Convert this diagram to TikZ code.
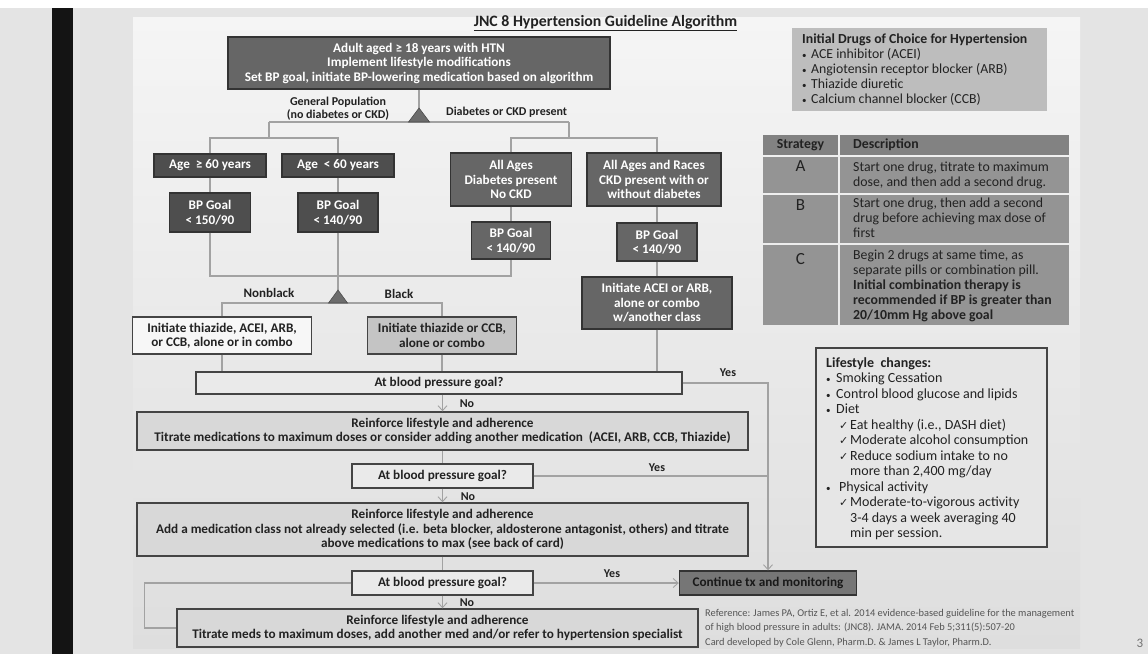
\documentclass[tikz,border=0pt]{standalone}
\usepackage{fontspec}
\setmainfont{Carlito}
\newfontfamily\sym{DejaVu Sans}
\usetikzlibrary{arrows.meta}
\definecolor{outerbg}{HTML}{E4E4E4}
\definecolor{slidetop}{HTML}{F5F5F5}
\definecolor{slidebot}{HTML}{DEDEDE}
\definecolor{darkA}{HTML}{666666}
\definecolor{darkB}{HTML}{4E4E4E}
\definecolor{bordD}{HTML}{333333}
\definecolor{bordL}{HTML}{444444}
\definecolor{goalfill}{HTML}{EAEAEA}
\definecolor{reinfill}{HTML}{D8D8D8}
\definecolor{blackfill}{HTML}{C4C4C4}
\definecolor{contfill}{HTML}{767676}
\definecolor{connc}{HTML}{A2A2A2}
\definecolor{txt}{HTML}{222222}
\definecolor{drugfill}{HTML}{BDBDBD}
\definecolor{tabhead}{HTML}{828282}
\definecolor{tabrow}{HTML}{949494}
\definecolor{lifefill}{HTML}{E6E6E6}
\definecolor{trifill}{HTML}{6C6C6C}
\definecolor{reftxt}{HTML}{555555}
\begin{document}
\begin{tikzpicture}[x=1pt,y=-1pt,
  conn/.style={draw=connc, line width=1.2pt},
  arr/.style={conn, -{Straight Barb[length=5pt,width=9pt,line width=0.9pt]}},
  bx/.style={rectangle, line width=1.4pt, inner sep=1pt, align=center,
    font=\bfseries\fontsize{13.2}{14.5}\selectfont},
  dark/.style={bx, fill=darkA, draw=bordD, text=white},
  darker/.style={bx, fill=darkB, draw=bordD, text=white},
  goalbox/.style={bx, fill=goalfill, draw=bordL, text=txt},
  reinbox/.style={bx, fill=reinfill, draw=bordL, text=txt},
  lbl/.style={font=\bfseries\fontsize{12}{13}\selectfont, text=txt, align=center, inner sep=0},
  tri/.style={fill=trifill, draw=trifill!70!black, line width=0.6pt},
  cellH/.style={fill=tabhead, anchor=north west, inner sep=0, minimum height=20},
  cellR/.style={fill=tabrow, anchor=north west, inner sep=0},
  tabtxt/.style={anchor=north west, inner sep=0, align=left, text=txt,
    font=\fontsize{13.8}{15}\selectfont},
  sidetxt/.style={anchor=north west, inner sep=0, align=left, text=txt},
  reftext/.style={anchor=west, inner sep=0, text=reftxt, font=\fontsize{10.4}{12}\selectfont}
]
\useasboundingbox (0,0) rectangle (1148,654);
% background
\fill[outerbg] (0,0) rectangle (1148,654);
\fill[white] (0,0) rectangle (1148,8);
\fill[black!92] (52,8) rectangle (73,654);
\shade[top color=slidetop, bottom color=slidebot] (133,17) rectangle (1080,648);

% title
\node[text=txt, font=\bfseries\fontsize{15.8}{18}\selectfont, inner sep=0] (title) at (605.5,23)
  {\underline{JNC 8 Hypertension Guideline Algorithm}};

% top box and first split
\node[dark, minimum width=382, minimum height=52] (top) at (419,63)
  {Adult aged ≥ 18 years with HTN\\Implement lifestyle modifications\\Set BP goal, initiate BP-lowering medication based on algorithm};
\coordinate (t1) at (419,108);
\coordinate (b1L) at (269,122);
\coordinate (b1R) at (569,122);
\draw[conn] (top.south) -- (t1);
\draw[conn] (b1L) -- (b1R);
\filldraw[tri] (t1) -- (429.5,122) -- (408.5,122) -- cycle;
\node[lbl] (gp) at (338,108.5) {General Population\\(no diabetes or CKD)};
\node[lbl, anchor=west] (dc) at (446,112) {Diabetes or CKD present};

% general population branch
\node[darker, minimum width=112, minimum height=23] (ageA) at (210,165.5) {Age\ \ ≥ 60 years};
\node[darker, minimum width=112, minimum height=23] (ageB) at (338,165.5) {Age\ \ < 60 years};
\draw[conn] (b1L) -- ++(0,16) coordinate (s1);
\draw[conn] (ageA.north) |- (s1) -| (ageB.north);
\node[darker, minimum width=81, minimum height=39] (bpA) at (210,212.5) {BP Goal\\< 150/90};
\node[darker, minimum width=80, minimum height=39] (bpB) at (338,212.5) {BP Goal\\< 140/90};
\draw[conn] (ageA) -- (bpA);
\draw[conn] (ageB) -- (bpB);

% diabetes / CKD branch
\node[dark, minimum width=121, minimum height=53] (diab) at (511,179.5) {All Ages\\Diabetes present\\No CKD};
\node[dark, minimum width=134, minimum height=53] (ckd) at (654,179.5) {All Ages and Races\\CKD present with or\\without diabetes};
\node[dark, minimum width=79, minimum height=37] (bpC) at (511,240.5) {BP Goal\\< 140/90};
\node[dark, minimum width=80, minimum height=38] (bpD) at (657,242) {BP Goal\\< 140/90};
\node[dark, minimum width=150, minimum height=52] (acei) at (657,303) {Initiate ACEI or ARB,\\alone or combo\\w/another class};
\draw[conn] (b1R) -- ++(0,16) coordinate (s2);
\draw[conn] (diab.north) |- (s2) -| (ckd.north -| bpD.north);
\draw[conn] (diab) -- (bpC);
\draw[conn] (ckd.south -| bpD.north) -- (bpD.north);
\draw[conn] (bpD) -- (acei);

% merge and race split
\coordinate (m) at (338,276);
\coordinate (t2) at (338,290);
\coordinate (t2b) at (338,303);
\draw[conn] (bpA.south) |- (m) -| (bpC.south);
\draw[conn] (bpB.south) -- (t2);
\node[bx, fill=white!97!black, draw=bordL, text=txt, minimum width=179, minimum height=37] (nonblack) at (222,335.5)
  {Initiate thiazide, ACEI, ARB,\\or CCB, alone or in combo};
\node[bx, fill=blackfill, draw=bordL, text=txt, minimum width=149, minimum height=37] (black) at (442,335.5)
  {Initiate thiazide or CCB,\\alone or combo};
\draw[conn] (nonblack.north) |- (t2b) -| (black.north);
\filldraw[tri] (t2) -- (347.5,303) -- (328.5,303) -- cycle;
\node[lbl, font=\bfseries\fontsize{13}{14}\selectfont] (nb) at (269,293) {Nonblack};
\node[lbl, font=\bfseries\fontsize{13}{14}\selectfont] (bl) at (399,294) {Black};

% decision ladder
\node[goalbox, minimum width=486, minimum height=22] (goal1) at (439,383) {At blood pressure goal?};
\draw[conn] (nonblack.south) -- (nonblack.south |- goal1.north);
\draw[conn] (black.south) -- (black.south |- goal1.north);
\draw[conn] (acei.south) -- (acei.south |- goal1.north);

\node[goalbox, fill=contfill, draw=bordD, text=black!90, minimum width=177, minimum height=24] (cont) at (768,583) {Continue tx and monitoring};
\draw[arr] (goal1.east) -| (cont.north);
\node[lbl] (y1) at (728,373) {Yes};

\node[reinbox, minimum width=611, minimum height=38] (rein1) at (442.5,431)
  {Reinforce lifestyle and adherence\\Titrate medications to maximum doses or consider adding another medication\ \ (ACEI, ARB, CCB, Thiazide)};
\draw[arr] (goal1.south -| rein1.north) -- (rein1.north);
\node[lbl] (n1) at (467,404) {No};

\node[goalbox, minimum width=181, minimum height=24] (goal2) at (442.5,476) {At blood pressure goal?};
\draw[conn] (rein1) -- (goal2);
\draw[conn] (goal2.east) -- (goal2.east -| cont.north);
\node[lbl] (y2) at (657,468) {Yes};

\node[reinbox, minimum width=611, minimum height=53] (rein2) at (442.5,529.5)
  {Reinforce lifestyle and adherence\\Add a medication class not already selected (i.e. beta blocker, aldosterone antagonist, others) and titrate\\above medications to max (see back of card)};
\draw[arr] (goal2) -- (rein2);
\node[lbl] (n2) at (468,497) {No};

\node[goalbox, minimum width=181, minimum height=24] (goal3) at (442.5,583) {At blood pressure goal?};
\draw[conn] (rein2) -- (goal3);
\draw[arr] (goal3) -- (cont);
\node[lbl] (y3) at (612,574) {Yes};

\node[reinbox, minimum width=521, minimum height=38] (rein3) at (437.5,628)
  {Reinforce lifestyle and adherence\\Titrate meds to maximum doses, add another med and/or refer to hypertension specialist};
\draw[arr] (goal3.south) -- (goal3.south |- rein3.north);
\node[lbl] (n3) at (467,603) {No};
\draw[conn] (goal3.west) -- ++(-207,0) |- (rein3.west);

% references
\node[reftext] (ref1) at (705,614) {Reference: James PA, Ortiz E, et al. 2014 evidence-based guideline for the management};
\node[reftext] (ref2) at (705,628) {of high blood pressure in adults: (JNC8). JAMA. 2014 Feb 5;311(5):507-20};
\node[reftext] (ref3) at (705,643) {Card developed by Cole Glenn, Pharm.D. \& James L Taylor, Pharm.D.};

% initial drugs box
\node[fill=drugfill, inner sep=0, minimum width=255, minimum height=83] (drugs) at (919.5,69.5) {};
\node[sidetxt, font=\fontsize{13.8}{15}\selectfont] (drugsT) at (802,34)
  {\textbf{Initial Drugs of Choice for Hypertension}\\
   \makebox[9pt][l]{\small•}ACE inhibitor (ACEI)\\
   \makebox[9pt][l]{\small•}Angiotensin receptor blocker (ARB)\\
   \makebox[9pt][l]{\small•}Thiazide diuretic\\
   \makebox[9pt][l]{\small•}Calcium channel blocker (CCB)};

% strategy table
\node[cellH, minimum width=75] (hS) at (763,135) {};
\node[cellH, minimum width=229] (hD) at (840,135) {};
\node[cellR, minimum width=75, minimum height=36] (aS) at (763,157) {};
\node[cellR, minimum width=229, minimum height=36] (aD) at (840,157) {};
\node[cellR, minimum width=75, minimum height=48] (bS) at (763,195) {};
\node[cellR, minimum width=229, minimum height=48] (bD) at (840,195) {};
\node[cellR, minimum width=75, minimum height=80] (cS) at (763,245) {};
\node[cellR, minimum width=229, minimum height=80] (cD) at (840,245) {};
\node[text=txt, font=\bfseries\fontsize{13.8}{15}\selectfont, inner sep=0] (hSt) at (800.5,145) {Strategy};
\node[text=txt, font=\bfseries\fontsize{13.8}{15}\selectfont, inner sep=0, anchor=west] (hDt) at (853,145) {Description};
\node[text=txt, font=\fontsize{17}{19}\selectfont, inner sep=0] (aL) at (800.5,166) {A};
\node[text=txt, font=\fontsize{17}{19}\selectfont, inner sep=0] (bL) at (800.5,205) {B};
\node[text=txt, font=\fontsize{17}{19}\selectfont, inner sep=0] (cL) at (800.5,259) {C};
\node[tabtxt] (aT) at (853,162) {Start one drug, titrate to maximum\\dose, and then add a second drug.};
\node[tabtxt] (bT) at (853,198) {Start one drug, then add a second\\drug before achieving max dose of\\first};
\node[tabtxt] (cT) at (853,250) {Begin 2 drugs at same time, as\\separate pills or combination pill.\\\textbf{Initial combination therapy is}\\\textbf{recommended if BP is greater than}\\\textbf{20/10mm Hg above goal}};

% lifestyle box
\node[fill=lifefill, draw=bordL, line width=1.4pt, inner sep=0, minimum width=231, minimum height=199] (life) at (931.5,447.5) {};
\node[sidetxt, font=\fontsize{14}{15.5}\selectfont] (lifeT) at (826,357)
  {\textbf{Lifestyle\ \ changes:}\\
   \makebox[10pt][l]{\small•}Smoking Cessation\\
   \makebox[10pt][l]{\small•}Control blood glucose and lipids\\
   \makebox[10pt][l]{\small•}Diet\\
   \hspace*{13pt}\makebox[11pt][l]{\sym\fontsize{11}{12}\selectfont ✓}Eat healthy (i.e., DASH diet)\\
   \hspace*{13pt}\makebox[11pt][l]{\sym\fontsize{11}{12}\selectfont ✓}Moderate alcohol consumption\\
   \hspace*{13pt}\makebox[11pt][l]{\sym\fontsize{11}{12}\selectfont ✓}Reduce sodium intake to no\\
   \hspace*{24pt}more than 2,400 mg/day\\
   \makebox[13pt][l]{\small•}Physical activity\\
   \hspace*{13pt}\makebox[11pt][l]{\sym\fontsize{11}{12}\selectfont ✓}Moderate-to-vigorous activity\\
   \hspace*{24pt}3-4 days a week averaging 40\\
   \hspace*{24pt}min per session.};

% page number
\node[text=black!55, font=\fontsize{13}{14}\selectfont, inner sep=0] (pg) at (1140,643) {3};
\end{tikzpicture}
\end{document}
